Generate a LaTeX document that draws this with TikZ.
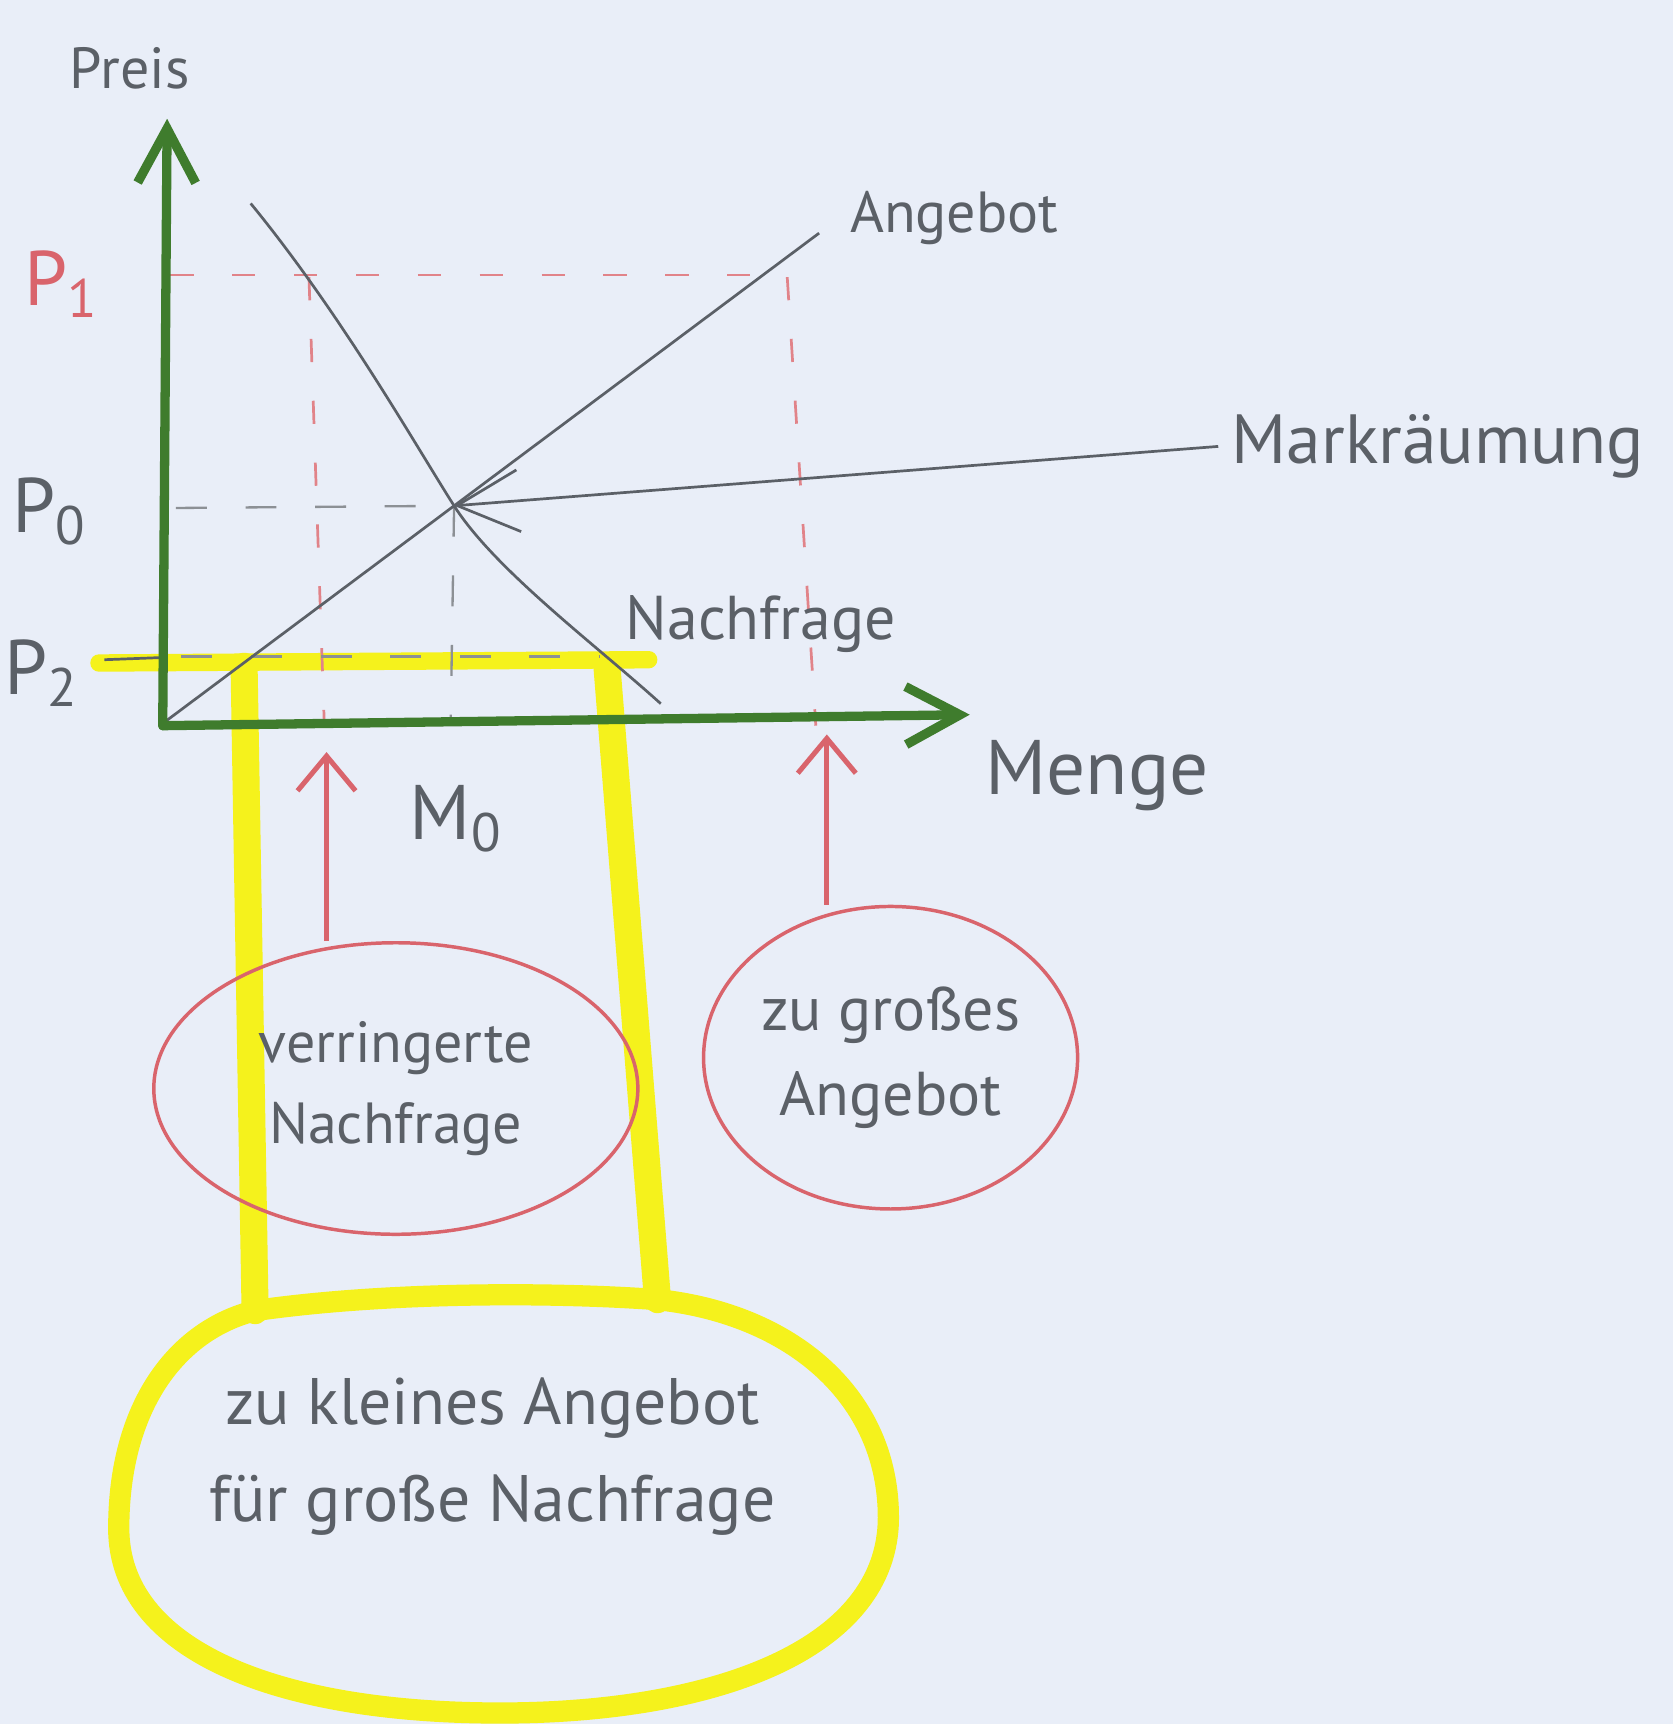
\documentclass[tikz,border=0pt]{standalone}
\usepackage{fontspec}
\setmainfont{PT Sans}
\usepackage{tikz}
\usetikzlibrary{arrows.meta,positioning,shapes.geometric,calc}
\definecolor{paper}{HTML}{E9EEF8}
\definecolor{pencil}{HTML}{5B6067}
\definecolor{axisgreen}{HTML}{3F7C2D}
\definecolor{redpen}{HTML}{D9646C}
\definecolor{marker}{HTML}{F5F21C}

\begin{document}
\begin{tikzpicture}[x=0.01cm,y=-0.01cm,
  hand/.style={text=pencil,font=\fontsize{#1pt}{#1pt}\selectfont},
  axis/.style={draw=axisgreen,line width=2.4pt,line cap=round,
    -{Straight Barb[length=14pt,width=15pt]}},
  curve/.style={draw=pencil,line width=0.7pt},
  helpline/.style={draw=pencil!70,line width=0.6pt,dash pattern=on 8pt off 10pt},
  redline/.style={draw=redpen!80,line width=0.7pt,dash pattern=on 6pt off 10pt},
  redarrow/.style={draw=redpen,line width=1.3pt,-{Straight Barb[length=9pt,width=15pt]}},
  bubble/.style={ellipse,draw=redpen,line width=0.9pt,align=center,inner sep=0pt},
  hilite/.style={draw=marker,line width=#1,line cap=round,line join=round}]

  % paper
  \fill[paper] (0,0) rectangle (1522,1568);
  \useasboundingbox (0,0) rectangle (1522,1568);

  % points
  \coordinate (O) at (148,660);
  \coordinate (ytop) at (152,108);
  \coordinate (xtop) at (882,650);
  \coordinate (s0) at (148,658);
  \coordinate (s1) at (745,212);
  \coordinate (eq) at (413,460);
  \coordinate (qd) at (297,684);
  \coordinate (qs) at (752,668);
  \coordinate (legL) at (232,1192);
  \coordinate (legR) at (598,1182);

  % yellow marker
  \coordinate (barL) at (90,603);
  \coordinate (barR) at (590,600);
  \draw[hilite=5.5pt] (legL) .. controls (350,1175) and (500,1175) .. (legR)
    .. controls (720,1195) and (808,1270) .. (808,1380)
    .. controls (808,1500) and (650,1558) .. (455,1558)
    .. controls (250,1558) and (108,1500) .. (108,1390)
    .. controls (108,1280) and (160,1210) .. (legL) -- cycle;
  \draw[hilite=4.5pt] (barL) -- (barR);
  \draw[hilite=7pt] (222,606) -- (legL);
  \draw[hilite=7pt] (552,606) -- (legR);

  % helper lines
  \draw[redline] (155,250) -- (716,250);
  \draw[redline] (281,252) -- (295,660);
  \draw[redline] (716,252) -- (742,660);
  \draw[helpline] (160,462) -- (eq);
  \draw[helpline] (eq) -- (410,652);
  \draw[helpline] (165,597) -- (545,597);
  \draw[curve] (95,600) -- (148,598);

  % supply and demand
  \draw[curve] (s0) -- (s1);
  \draw[curve] (228,185) .. controls (310,285) and (378,405) .. (eq)
    .. controls (450,518) and (540,585) .. (601,640);

  % axes
  \draw[axis] (O) -- (ytop);
  \draw[axis] (O) -- (xtop);

  % labels
  \node[hand=15] (preis) at (118,62) {Preis};
  \node[hand=20] (menge) at (998,705) {Menge};
  \node[hand=15] (angebot) at (868,198) {Angebot};
  \node[hand=16] (nachfrage) at (692,568) {Nachfrage};
  \node[hand=18,anchor=west] (markt) at (1108,406) {Markräumung};
  \node[hand=20,text=redpen] (pA) at (56,258) {P\textsubscript{1}};
  \node[hand=20] (pB) at (45,465) {P\textsubscript{0}};
  \node[hand=20] (pC) at (38,612) {P\textsubscript{2}};
  \node[hand=20] (m0) at (415,745) {M\textsubscript{0}};

  % Markraeumung arrow
  \draw[curve,-{Straight Barb[length=16pt,width=16pt]}] (markt.west) -- (eq);

  % bubbles
  \node[bubble,minimum width=4.4cm,minimum height=2.65cm,hand=15] (verr) at (360,990)
    {verringerte\\[6pt]Nachfrage};
  \node[bubble,minimum width=3.4cm,minimum height=2.75cm,hand=16] (gross) at (810,962)
    {zu großes\\[6pt]Angebot};
  \node[hand=17,align=center] (kleintxt) at (448,1325)
    {zu kleines Angebot\\[8pt]für große Nachfrage};

  % red arrows
  \draw[redarrow] (verr.north -| qd) -- (qd);
  \draw[redarrow] (gross.north -| qs) -- (qs);
\end{tikzpicture}
\end{document}
